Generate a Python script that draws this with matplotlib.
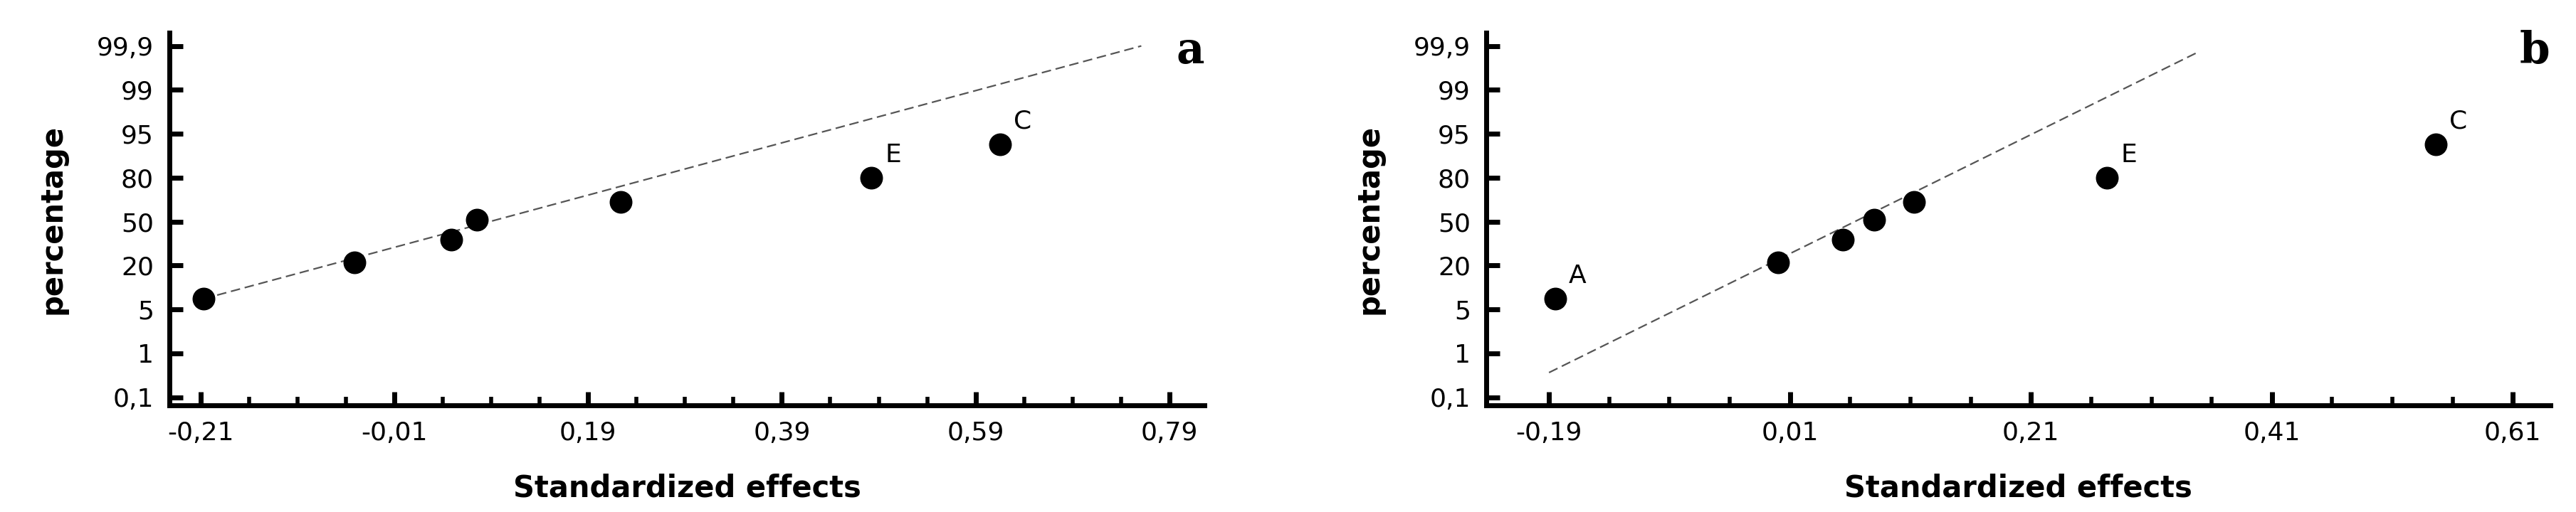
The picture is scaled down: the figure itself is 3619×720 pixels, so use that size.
import matplotlib
matplotlib.use("Agg")
import matplotlib.pyplot as plt
from matplotlib.ticker import MultipleLocator

y_ticklabels = ["0,1", "1", "5", "20", "50", "80", "95", "99", "99,9"]

a_x = [-0.207, -0.051, 0.049, 0.075, 0.224, 0.482, 0.615]
a_y = [2.24, 3.07, 3.59, 4.04, 4.45, 5.0, 5.76]
a_labels = ["", "", "", "", "", "E", "C"]
a_line_x = [-0.207, 0.761]
a_line_y = [2.24, 8.0]
a_xticks = [-0.21, -0.01, 0.19, 0.39, 0.59, 0.79]

b_x = [-0.185, 0.0, 0.054, 0.080, 0.113, 0.273, 0.546]
b_y = [2.24, 3.07, 3.59, 4.04, 4.45, 5.0, 5.76]
b_labels = ["A", "", "", "", "", "E", "C"]
b_line_x = [-0.19, 0.348]
b_line_y = [0.56, 7.85]
b_xticks = [-0.19, 0.01, 0.21, 0.41, 0.61]

fam = ["Liberation Sans Narrow", "DejaVu Sans"]
fig = plt.figure(figsize=(36.19, 7.2), dpi=100)

def panel(rect, xs, ys, labs, lx, ly, xt, xlim, letter):
    ax = fig.add_axes(rect)
    ax.plot(lx, ly, ls=(0, (6, 3)), color="#555555", lw=1.6)
    ax.plot(xs, ys, "o", color="black", ms=22, ls="none")
    for x, y, t in zip(xs, ys, labs):
        if t:
            ax.annotate(t, (x, y), xytext=(14, 16), textcoords="offset points",
                        fontsize=26, fontfamily="DejaVu Sans")
    ax.set_xlim(*xlim)
    ax.set_ylim(-0.19, 8.3)
    ax.set_yticks(range(len(y_ticklabels)))
    ax.set_yticklabels(y_ticklabels, fontsize=26, family=fam)
    ax.set_xticks(xt)
    ax.set_xticklabels([f"{v:.2f}".replace(".", ",") for v in xt], fontsize=26, family=fam)
    ax.xaxis.set_minor_locator(MultipleLocator(0.05))
    ax.xaxis.set_minor_locator(plt.FixedLocator([xt[0] + 0.05 * i for i in range(int((xlim[1] - xt[0]) / 0.05) + 1)]))
    for s in ["top", "right"]:
        ax.spines[s].set_visible(False)
    for s in ["left", "bottom"]:
        ax.spines[s].set_linewidth(5)
    ax.tick_params(axis="both", which="major", direction="in", length=14, width=5, pad=16)
    ax.tick_params(axis="x", which="minor", direction="in", length=9, width=4)
    ax.set_ylabel("percentage", fontsize=30, fontweight="bold", family="DejaVu Sans", labelpad=30)
    ax.set_xlabel("Standardized effects", fontsize=30, fontweight="bold", family=fam, labelpad=28)
    ax.text(1.0, 0.95, letter, transform=ax.transAxes, fontsize=44, fontweight="bold",
            family="DejaVu Serif", ha="right", va="center")
    return ax

panel([0.0658, 0.208, 0.4017, 0.728], a_x, a_y, a_labels, a_line_x, a_line_y, a_xticks, (-0.242, 0.826), "a")
panel([0.577, 0.208, 0.413, 0.728], b_x, b_y, b_labels, b_line_x, b_line_y, b_xticks, (-0.242, 0.641), "b")

fig.savefig("out.png", dpi=100)
